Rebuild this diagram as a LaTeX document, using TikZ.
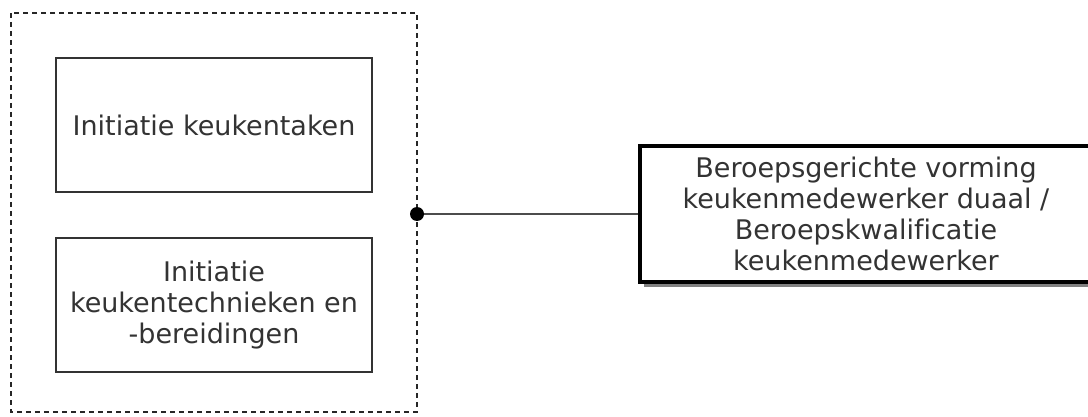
\documentclass[tikz,border=0pt]{standalone}
\usepackage{fontspec}
\setmainfont[Ligatures=NoCommon]{DejaVu Sans}
\usetikzlibrary{shadows}
\begin{document}
\begin{tikzpicture}[x=1pt,y=-1pt,
  lbl/.style={font=\fontsize{27}{31}\selectfont, text=black!80, align=center},
  innerbox/.style={draw=black!80, line width=2.2pt, minimum width=316pt, minimum height=134pt, inner sep=0pt},
  groupbox/.style={draw=black!85, line width=2.2pt, dash pattern=on 5pt off 4pt},
  goalbox/.style={draw=black, line width=3.5pt, fill=white, minimum width=452pt, minimum height=136pt, inner sep=0pt,
    drop shadow={shadow xshift=4pt, shadow yshift=-5pt, fill=black!50, opacity=1}},
  link/.style={draw=black!70, line width=2.4pt}]
\useasboundingbox (0,0) rectangle (1088,417);
% outer dashed grouping frame
\draw[groupbox] (11,13) rectangle (417,412);
% the two initiation modules
\node[innerbox, lbl] (taken) at (214,125) {Initiatie keukentaken};
\node[innerbox, lbl] (tech) at (214,305) {Initiatie\\keukentechnieken en\\-bereidingen};
% qualification box on the right
\node[goalbox, lbl] (goal) at (866,214) {Beroepsgerichte vorming\\keukenmedewerker duaal /\\Beroepskwalificatie\\keukenmedewerker};
% connection from the frame to the qualification
\coordinate (joint) at (417,214);
\draw[link] (joint) -- (goal.west);
\fill[black] (joint) circle (7pt);
\end{tikzpicture}
\end{document}
